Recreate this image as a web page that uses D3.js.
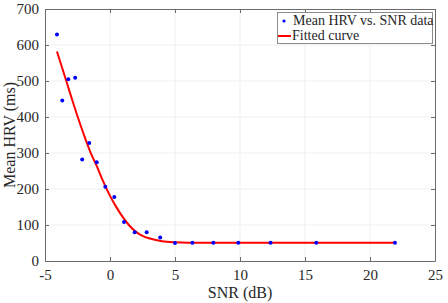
<!DOCTYPE html>
<html>
<head>
<meta charset="utf-8">
<script src="https://cdn.jsdelivr.net/npm/d3@7"></script>
<style>
  html, body { margin: 0; padding: 0; background: #fff; }
  svg text { font-family: "Liberation Serif", "Times New Roman", serif; fill: #262626; }
</style>
</head>
<body>
<svg id="chart" width="448" height="303"></svg>
<script>
// measured points: SNR (dB) and mean HRV (ms)
const snrValues = [-4.08, -3.67, -3.21, -2.68, -2.14, -1.6, -1.02, -0.36, 0.33, 1.08, 1.9, 2.82, 3.86, 5.0, 6.34, 7.95, 9.87, 12.35, 15.87, 21.92]
const hrvValues = [629, 446, 505, 509, 282, 328, 274, 206, 178, 108, 80, 80, 65, 50, 51, 51, 51, 51, 51, 51]

// fitted curve
const fitSnr = [-4.08, -3.5, -3.0, -2.5, -2.0, -1.5, -1.0, -0.5, 0, 0.5, 1.0, 1.5, 2.0, 2.5, 3.0, 4.0, 5.0, 6.0, 8.0, 12.0, 16.0, 21.92]
const fitHrv = [582, 516, 458, 402, 350, 302, 262, 219, 181, 149, 121, 98, 81, 70, 63, 55, 52, 51, 51, 51, 51, 51]

const xTicks = [-5, 0, 5, 10, 15, 20, 25]
const yTicks = [0, 100, 200, 300, 400, 500, 600, 700]

const margin = { top: 9, right: 13, bottom: 42, left: 45 }
const size = { width: 448, height: 303 }
const FONT = '"Liberation Serif", "Times New Roman", serif'

const svg = d3.select('#chart')
const innerW = size.width - margin.left - margin.right
const innerH = size.height - margin.top - margin.bottom

const x = d3.scaleLinear().domain([-5, 25]).range([margin.left, margin.left + innerW])
const y = d3.scaleLinear().domain([0, 700]).range([margin.top + innerH, margin.top])

// grid
const grid = svg.append('g').attr('class', 'grid')
grid.selectAll('line.gx')
  .data(xTicks.slice(1, -1))
  .enter().append('line')
  .attr('x1', d => x(d)).attr('x2', d => x(d))
  .attr('y1', y(0)).attr('y2', y(700))
  .attr('stroke', '#efefef').attr('stroke-width', 1)
grid.selectAll('line.gy')
  .data(yTicks.slice(1, -1))
  .enter().append('line')
  .attr('x1', x(-5)).attr('x2', x(25))
  .attr('y1', d => y(d)).attr('y2', d => y(d))
  .attr('stroke', '#efefef').attr('stroke-width', 1)

// axes (box with inward ticks)
const tickLen = 4
const plainFormat = d => String(d)
function styleAxis (g) {
  g.attr('font-family', FONT)
  g.select('.domain').attr('stroke', '#6b6b6b')
  g.selectAll('.tick line').attr('stroke', '#6b6b6b')
  g.selectAll('.tick text')
    .style('font-family', FONT)
    .style('font-size', '15px')
    .attr('fill', '#262626')
}

svg.append('g')
  .attr('transform', `translate(0, ${y(0)})`)
  .call(d3.axisBottom(x).tickValues(xTicks).tickFormat(plainFormat).tickSize(-tickLen).tickSizeOuter(0).tickPadding(8))
  .call(styleAxis)

svg.append('g')
  .attr('transform', `translate(0, ${y(700)})`)
  .call(d3.axisTop(x).tickValues(xTicks).tickSize(-tickLen).tickSizeOuter(0).tickFormat(''))
  .call(styleAxis)

svg.append('g')
  .attr('transform', `translate(${x(-5)}, 0)`)
  .call(d3.axisLeft(y).tickValues(yTicks).tickFormat(plainFormat).tickSize(-tickLen).tickSizeOuter(0).tickPadding(6))
  .call(styleAxis)

svg.append('g')
  .attr('transform', `translate(${x(25)}, 0)`)
  .call(d3.axisRight(y).tickValues(yTicks).tickSize(-tickLen).tickSizeOuter(0).tickFormat(''))
  .call(styleAxis)

// fitted curve
const fitData = fitSnr.map((s, i) => [s, fitHrv[i]])
svg.append('path')
  .datum(fitData)
  .attr('fill', 'none')
  .attr('stroke', '#ff0000')
  .attr('stroke-width', 2)
  .attr('d', d3.line().x(d => x(d[0])).y(d => y(d[1])).curve(d3.curveMonotoneX))

// data points
svg.append('g').selectAll('circle')
  .data(snrValues.map((s, i) => [s, hrvValues[i]]))
  .enter().append('circle')
  .attr('cx', d => x(d[0]))
  .attr('cy', d => y(d[1]))
  .attr('r', 2)
  .attr('fill', '#0000ff')

// axis labels
svg.append('text')
  .attr('x', margin.left + innerW / 2)
  .attr('y', 298)
  .attr('text-anchor', 'middle')
  .style('font-size', '16px')
  .text('SNR (dB)')

svg.append('text')
  .attr('transform', `translate(15, ${margin.top + innerH / 2}) rotate(-90)`)
  .attr('text-anchor', 'middle')
  .style('font-size', '16px')
  .text('Mean HRV (ms)')

// legend
const legend = svg.append('g')
legend.append('rect')
  .attr('x', 277.5).attr('y', 12.5)
  .attr('width', 155).attr('height', 31)
  .attr('fill', '#fff').attr('stroke', '#8c8c8c')
legend.append('circle')
  .attr('cx', 284).attr('cy', 21).attr('r', 1.6).attr('fill', '#0000ff')
legend.append('line')
  .attr('x1', 278).attr('x2', 291).attr('y1', 36).attr('y2', 36)
  .attr('stroke', '#ff0000').attr('stroke-width', 2)
legend.append('text')
  .attr('x', 293).attr('y', 25)
  .style('font-size', '14px')
  .text('Mean HRV vs. SNR data')
legend.append('text')
  .attr('x', 292).attr('y', 40)
  .style('font-size', '14px')
  .text('Fitted curve')
</script>
</body>
</html>
